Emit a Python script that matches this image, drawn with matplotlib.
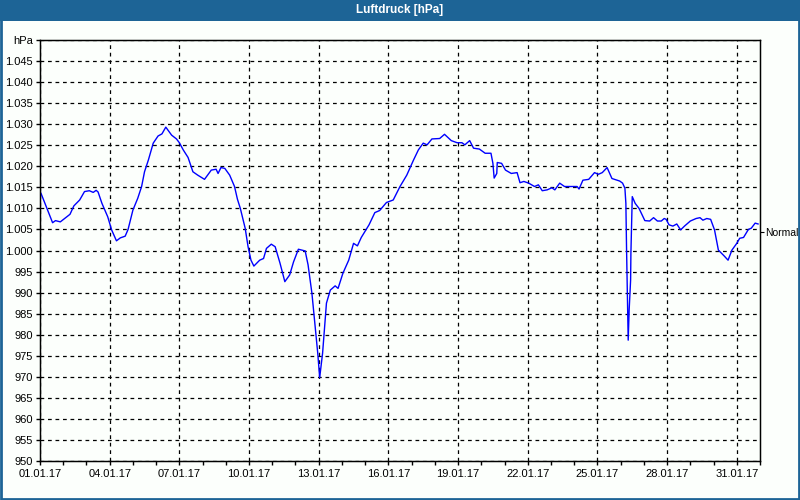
import matplotlib
matplotlib.use("Agg")
import matplotlib.pyplot as plt
import matplotlib.dates as mdates
from matplotlib.patches import Rectangle
from matplotlib.ticker import FixedLocator, FuncFormatter
import datetime as dt

# hours since 01.01.2017 00:00
hours = [1, 13, 16, 21, 26, 31, 35, 41, 46, 51, 55, 58, 60, 64, 70, 74, 79, 83, 88, 91,
         96, 101, 105, 108, 112, 117, 122, 126, 130, 136, 141, 144, 148, 153, 158, 163,
         170, 177, 182, 184, 187, 191, 196, 201, 204, 207, 212, 215, 218, 221, 227, 231,
         234, 239, 243, 248, 253, 258, 262, 267, 274, 277, 281, 284, 287, 289, 292, 296,
         300, 305, 308, 313, 319, 324, 328, 332, 340, 346, 351, 358, 365, 372, 379, 386,
         391, 396, 400, 405, 413, 418, 425, 431, 436, 439, 444, 448, 454, 460, 466, 468,
         469.3, 472, 472.5, 477, 481, 487, 493, 496, 500, 505, 511, 515, 519, 524, 529,
         532, 537, 542, 548, 555, 557, 561, 567, 573, 577, 581, 586, 591, 599, 602, 604.4,
         605.4, 606.1, 607.2, 607.8, 608.8, 610.3, 610.6, 612, 615, 619, 625, 630, 634,
         638, 642, 645, 647, 650, 654, 658, 662, 666, 672, 678, 682, 685, 689, 693, 697,
         701, 707, 711, 715, 720, 723, 727, 732, 735, 739, 742]
pressure = [1013.6, 1006.6, 1007.1, 1006.8, 1007.7, 1008.6, 1010.6, 1012.0, 1014.0, 1014.2,
            1013.8, 1014.3, 1013.9, 1011.2, 1008.0, 1004.9, 1002.3, 1003.0, 1003.4, 1005.0,
            1009.6, 1012.4, 1015.2, 1018.7, 1021.5, 1025.5, 1027.2, 1027.7, 1029.3, 1027.4,
            1026.5, 1025.6, 1023.9, 1022.1, 1018.7, 1017.9, 1016.9, 1019.1, 1019.3, 1018.3,
            1019.7, 1019.5, 1017.9, 1015.2, 1012.2, 1010.0, 1005.3, 1000.9, 997.7, 996.3,
            997.7, 998.1, 1000.5, 1001.5, 1000.9, 997.0, 992.6, 994.2, 997.3, 1000.3, 999.9,
            996.6, 989.8, 982.7, 975.6, 969.8, 975.6, 987.5, 990.6, 991.6, 991.0, 994.6,
            997.7, 1001.7, 1001.1, 1003.1, 1006.1, 1009.0, 1009.5, 1011.4, 1012.0, 1015.2,
            1017.9, 1021.5, 1023.9, 1025.5, 1025.1, 1026.5, 1026.6, 1027.6, 1026.1, 1025.6,
            1025.6, 1025.1, 1026.1, 1024.3, 1024.1, 1023.1, 1023.1, 1020.7, 1017.2, 1018.3,
            1020.9, 1020.7, 1019.1, 1018.3, 1018.5, 1016.1, 1016.4, 1016.0, 1015.2, 1015.6,
            1014.2, 1014.4, 1014.9, 1014.4, 1016.0, 1015.2, 1015.2, 1015.2, 1014.6, 1016.7,
            1016.9, 1018.5, 1018.1, 1018.5, 1019.7, 1017.1, 1016.5, 1016.0, 1014.8, 1011.2,
            1000.5, 985.9, 978.7, 985.9, 993.0, 999.3, 1012.8, 1011.2, 1010.0, 1007.1, 1007.0,
            1007.8, 1007.0, 1007.0, 1007.6, 1007.4, 1006.1, 1005.8, 1006.3, 1004.9, 1005.8,
            1007.0, 1007.6, 1007.8, 1007.2, 1007.6, 1007.4, 1004.9, 1000.1, 998.7, 997.7,
            1000.1, 1001.7, 1002.9, 1003.1, 1005.0, 1005.3, 1006.5, 1006.3]

x_tick_days = [1, 4, 7, 10, 13, 16, 19, 22, 25, 28, 31]
y_ticks = list(range(950, 1051, 5))
normal_value = 1004.5
title = "Luftdruck [hPa]"

start = dt.datetime(2017, 1, 1)
times = [start + dt.timedelta(hours=h) for h in hours]

plt.rcParams['font.family'] = ['Liberation Sans', 'DejaVu Sans']
fig = plt.figure(figsize=(8, 5), dpi=100)
bg = '#fcfffc'
fig.patch.set_facecolor(bg)

blue = '#1d6496'
# title bar and frame
fig.add_artist(Rectangle((0, 1 - 21 / 500), 1, 21 / 500, transform=fig.transFigure,
                         facecolor=blue, edgecolor='none', zorder=-2))
fig.add_artist(Rectangle((0.001, 0.002), 0.998, 0.996, transform=fig.transFigure,
                         facecolor='none', edgecolor=blue, linewidth=2, zorder=-1))
fig.text(0.5, 1 - 10.5 / 500, title, color='white', ha='center', va='center',
         fontsize=8.5, fontweight='bold')

ax = fig.add_axes([40 / 800, 39 / 500, 720 / 800, 421 / 500])
ax.set_facecolor(bg)
ax.plot(times, pressure, color='#0000ff', linewidth=1)

ax.set_xlim(start, start + dt.timedelta(days=31))
ax.set_ylim(950, 1050)

major_dates = [mdates.date2num(dt.datetime(2017, 1, d)) for d in x_tick_days]
ax.xaxis.set_major_locator(FixedLocator(major_dates))
ax.xaxis.set_minor_locator(mdates.DayLocator())
ax.xaxis.set_major_formatter(mdates.DateFormatter('%d.%m.%y'))

ax.yaxis.set_major_locator(FixedLocator(y_ticks))

def yfmt(v, pos):
    v = int(round(v))
    if v == 1050:
        return 'hPa'
    if v >= 1000:
        return f"{v // 1000}.{v % 1000:03d}"
    return str(v)

ax.yaxis.set_major_formatter(FuncFormatter(yfmt))

ax.tick_params(axis='both', which='major', labelsize=8, length=3, width=1, color='black')
ax.tick_params(axis='x', which='minor', length=3, width=1)
ax.tick_params(axis='y', which='major', length=3, pad=2)
ax.tick_params(axis='x', which='major', pad=3)

ax.grid(True, which='major', axis='both', color='black', linestyle=(0, (3, 3)), linewidth=0.9)
for s in ax.spines.values():
    s.set_color('black')
    s.set_linewidth(1)

ax2 = ax.twinx()
ax2.set_ylim(950, 1050)
ax2.set_yticks([normal_value])
ax2.set_yticklabels(['Normal'])
ax2.tick_params(axis='y', labelsize=7.5, length=3, pad=0.5)

fig.savefig('out.png', dpi=100, facecolor=fig.get_facecolor())
